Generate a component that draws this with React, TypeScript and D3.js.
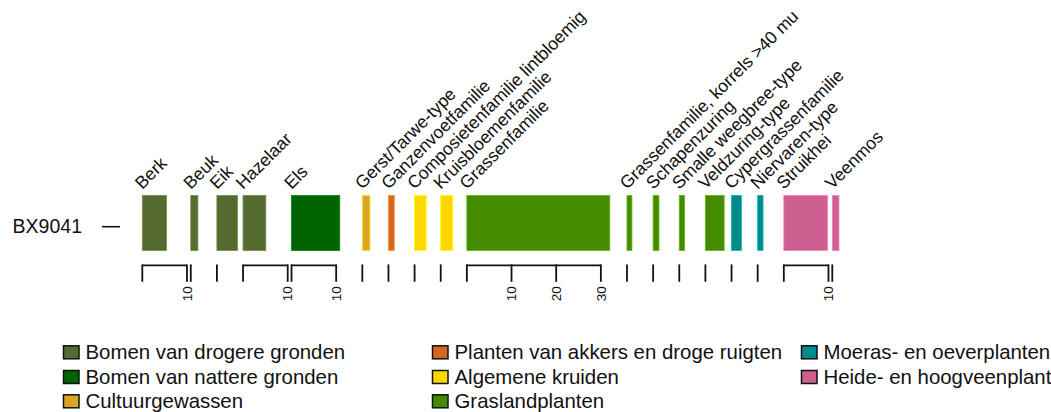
import React, { useEffect, useRef } from 'react';
import * as d3 from 'd3';

// pollen taxa, left to right
const taxa = [
  'Berk', 'Beuk', 'Eik', 'Hazelaar', 'Els',
  'Gerst/Tarwe-type', 'Ganzenvoetfamilie', 'Composietenfamilie lintbloemig', 'Kruisbloemenfamilie',
  'Grassenfamilie', 'Grassenfamilie, korrels >40 mu', 'Schapenzuring', 'Smalle weegbree-type',
  'Veldzuring-type', 'Cypergrassenfamilie', 'Niervaren-type', 'Struikhei', 'Veenmos',
];
// percentages for sample BX9041
const values = [5.4, 1.6, 4.6, 5.1, 10.8, 1.7, 1.3, 2.6, 2.7, 32.0, 1.1, 1.3, 1.2, 4.2, 2.2, 1.2, 9.8, 1.5];
// width of each column in %-units
const colMax = [10, 5, 5, 10, 15, 5, 5, 5, 5, 35, 5, 5, 5, 5, 5, 5, 10, 5];
const taxonGroup = [0, 0, 0, 0, 1, 2, 3, 4, 4, 5, 5, 5, 5, 5, 6, 6, 7, 7];

const groups = [
  'Bomen van drogere gronden', 'Bomen van nattere gronden', 'Cultuurgewassen',
  'Planten van akkers en droge ruigten', 'Algemene kruiden', 'Graslandplanten',
  'Moeras- en oeverplanten', 'Heide- en hoogveenplanten',
];
const groupColors = ['#556B2F', '#006400', '#DAA520', '#D2691E', '#FFD700', '#458B00', '#008B8B', '#CD6090'];

const sampleName = 'BX9041';
const tickStep = 10;

const FONT = '"Liberation Sans", Arial, Helvetica, sans-serif';

const App: React.FC = () => {
  const svgRef = useRef<SVGSVGElement>(null);

  useEffect(() => {
    if (!svgRef.current) return;
    const svg = d3.select(svgRef.current);
    svg.selectAll('*').remove();

    const left = 142.3;
    const gap = 3.8;
    const unit = d3.scaleLinear().domain([0, 1]).range([0, 4.467]);

    // cumulative column starts
    const starts: number[] = [];
    let acc = left;
    colMax.forEach(m => {
      starts.push(acc);
      acc += unit(m) + gap;
    });

    const barTop = 195.5;
    const barH = 55;
    const axisY = 265.3;
    const tickLen = 16.5;

    const g = svg.append('g').attr('font-family', FONT);

    // sample label + tick
    g.append('text')
      .attr('x', 82)
      .attr('y', 233.3)
      .attr('text-anchor', 'end')
      .attr('font-size', 19.5)
      .attr('fill', '#111')
      .text(sampleName);
    g.append('line')
      .attr('x1', 102).attr('x2', 120)
      .attr('y1', 226.7).attr('y2', 226.7)
      .attr('stroke', '#111').attr('stroke-width', 1.6);

    taxa.forEach((name, i) => {
      const x0 = starts[i];
      const color = groupColors[taxonGroup[i]];

      g.append('rect')
        .attr('x', x0)
        .attr('y', barTop)
        .attr('width', unit(values[i]))
        .attr('height', barH)
        .attr('fill', color)
        .attr('stroke', d3.color(color)!.brighter(0.8).formatHex())
        .attr('stroke-width', 0.8);

      // taxon label
      g.append('text')
        .attr('transform', `translate(${x0},190) rotate(-45)`)
        .attr('font-size', 17.6)
        .attr('fill', '#111')
        .text(name);

      // column axis
      const ticks = d3.range(0, colMax[i] + 0.001, tickStep);
      const ax = d3.scaleLinear().domain([0, 1]).range([x0, x0 + unit(1)]);
      const last = ticks[ticks.length - 1];
      if (last > 0) {
        g.append('line')
          .attr('x1', ax(0)).attr('x2', ax(last))
          .attr('y1', axisY).attr('y2', axisY)
          .attr('stroke', '#111').attr('stroke-width', 1.8);
      }
      ticks.forEach(t => {
        g.append('line')
          .attr('x1', ax(t)).attr('x2', ax(t))
          .attr('y1', axisY - 0.9).attr('y2', axisY + tickLen)
          .attr('stroke', '#111').attr('stroke-width', 1.8);
        if (t > 0) {
          g.append('text')
            .attr('transform', `translate(${ax(t)},${axisY + tickLen + 4.5}) rotate(-90)`)
            .attr('text-anchor', 'end')
            .attr('dy', '0.35em')
            .attr('font-size', 13.5)
            .attr('fill', '#111')
            .text(String(t));
        }
      });
    });

    // legend, column-major in 3 columns
    const legendCols = [63.5, 432.5, 801.5];
    const rowY = [352.3, 377, 401.3];
    groups.forEach((name, k) => {
      const c = Math.floor(k / 3);
      const r = k % 3;
      const lx = legendCols[c];
      const ly = rowY[r];
      g.append('rect')
        .attr('x', lx)
        .attr('y', ly - 6.5)
        .attr('width', 15.5)
        .attr('height', 13)
        .attr('fill', groupColors[k])
        .attr('stroke', '#111')
        .attr('stroke-width', 1.5);
      g.append('text')
        .attr('x', lx + 22)
        .attr('y', ly + 7)
        .attr('font-size', 20.4)
        .attr('fill', '#111')
        .text(name);
    });
  }, []);

  return (
    <svg
      ref={svgRef}
      width={1051}
      height={412}
      style={{ position: 'absolute', left: 0, top: 0, background: '#fff', display: 'block' }}
    />
  );
};

export default App;
